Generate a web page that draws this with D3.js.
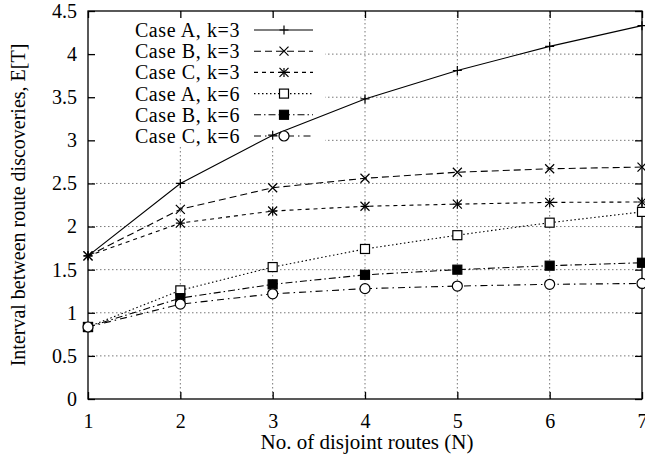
<!DOCTYPE html>
<html>
<head>
<meta charset="utf-8">
<script src="https://cdn.jsdelivr.net/npm/d3@7"></script>
<style>
  body { margin: 0; background: #fff; }
  svg text { font-family: "Liberation Serif", "Times New Roman", serif; fill: #000; }
</style>
</head>
<body>
<div id="chart"></div>
<script>
var w = 645;
var h = 456;
var margin = { top: 11, right: 3, bottom: 57, left: 88 };

// data
var routes = [1, 2, 3, 4, 5, 6, 7];
var caseAk3 = [1.66, 2.50, 3.06, 3.48, 3.81, 4.09, 4.33];
var caseBk3 = [1.66, 2.20, 2.45, 2.56, 2.63, 2.67, 2.69];
var caseCk3 = [1.66, 2.04, 2.18, 2.235, 2.26, 2.28, 2.285];
var caseAk6 = [0.835, 1.26, 1.53, 1.74, 1.90, 2.045, 2.17];
var caseBk6 = [0.835, 1.17, 1.33, 1.44, 1.50, 1.546, 1.58];
var caseCk6 = [0.835, 1.10, 1.22, 1.28, 1.31, 1.33, 1.34];
var seriesNames = ["Case A, k=3", "Case B, k=3", "Case C, k=3", "Case A, k=6", "Case B, k=6", "Case C, k=6"];
var yTicks = [0, 0.5, 1, 1.5, 2, 2.5, 3, 3.5, 4, 4.5];
var xTicks = [1, 2, 3, 4, 5, 6, 7];

var series = [caseAk3, caseBk3, caseCk3, caseAk6, caseBk6, caseCk6];
var dashes = ["none", "7,4", "4,4", "1.5,2.5", "7,3,1.5,3", "7,4,1.5,4"];
var markers = ["plus", "cross", "star", "square", "filled", "circle"];

var iw = w - margin.left - margin.right;
var ih = h - margin.top - margin.bottom;

var svg = d3.select("#chart")
    .append("svg")
    .attr("width", w)
    .attr("height", h);

var g = svg.append("g")
    .attr("transform", "translate(" + margin.left + "," + margin.top + ")");

var x = d3.scaleLinear().domain([1, 7]).range([0, iw]);
var y = d3.scaleLinear().domain([0, 4.5]).range([ih, 0]);

// grid
var grid = g.append("g").attr("class", "grid");
grid.selectAll(".hg")
    .data(yTicks.slice(1, -1))
    .enter().append("line")
    .attr("x1", 0).attr("x2", iw)
    .attr("y1", function(d) { return y(d); })
    .attr("y2", function(d) { return y(d); });
grid.selectAll(".vg")
    .data(xTicks.slice(1, -1))
    .enter().append("line")
    .attr("y1", 0).attr("y2", ih)
    .attr("x1", function(d) { return x(d); })
    .attr("x2", function(d) { return x(d); });
grid.selectAll("line")
    .attr("stroke", "#777")
    .attr("stroke-width", 1)
    .attr("stroke-dasharray", "1.5,2.5");

// key area hides the grid
g.append("rect")
    .attr("x", 1).attr("y", 1)
    .attr("width", 236).attr("height", 134)
    .attr("fill", "#fff");

// axes, ticks pointing inwards
var fmt = function(d) { return d; };
var yAxis = g.append("g").call(d3.axisLeft(y).tickValues(yTicks).tickFormat(fmt).tickSizeInner(-7).tickSizeOuter(0).tickPadding(11));
var xAxis = g.append("g").attr("transform", "translate(0," + ih + ")")
    .call(d3.axisBottom(x).tickValues(xTicks).tickFormat(fmt).tickSizeInner(-7).tickSizeOuter(0).tickPadding(15));
g.append("g").attr("transform", "translate(" + iw + ",0)")
    .call(d3.axisRight(y).tickValues(yTicks).tickFormat("").tickSizeInner(-7).tickSizeOuter(0));
g.append("g")
    .call(d3.axisTop(x).tickValues(xTicks).tickFormat("").tickSizeInner(-7).tickSizeOuter(0));

g.selectAll(".domain").remove();
g.selectAll(".tick line").attr("stroke", "#000").attr("stroke-width", 1.3);
g.selectAll(".tick text").style("font-size", "20px").attr("fill", "#000");

g.append("rect")
    .attr("width", iw).attr("height", ih)
    .attr("fill", "none")
    .attr("stroke", "#000")
    .attr("stroke-width", 1.3);

var drawMarker = function(sel, type, cx, cy) {
    var s = 4.5;
    var p = sel.append("g").attr("transform", "translate(" + cx + "," + cy + ")");
    if (type == "plus" || type == "star") {
        p.append("path").attr("d", "M" + -s + ",0H" + s + "M0," + -s + "V" + s);
    }
    if (type == "cross" || type == "star") {
        p.append("path").attr("d", "M" + -s + "," + -s + "L" + s + "," + s + "M" + -s + "," + s + "L" + s + "," + -s);
    }
    if (type == "square") {
        p.append("rect").attr("x", -s).attr("y", -s).attr("width", 2 * s).attr("height", 2 * s).attr("fill", "#fff");
    }
    if (type == "filled") {
        p.append("rect").attr("x", -s).attr("y", -s).attr("width", 2 * s).attr("height", 2 * s).attr("fill", "#000");
    }
    if (type == "circle") {
        p.append("circle").attr("r", s + 0.5).attr("fill", "#fff");
    }
    p.selectAll("*").attr("stroke", "#000").attr("stroke-width", 1.2);
    if (type != "square" && type != "filled" && type != "circle") p.selectAll("*").attr("fill", "none");
};

var line = d3.line()
    .x(function(d, i) { return x(routes[i]); })
    .y(function(d) { return y(d); });

series.forEach(function(vals, k) {
    var sg = g.append("g");
    sg.append("path")
        .attr("d", line(vals))
        .attr("fill", "none")
        .attr("stroke", "#000")
        .attr("stroke-width", 1.1)
        .attr("stroke-dasharray", dashes[k]);
    vals.forEach(function(v, i) {
        drawMarker(sg, markers[k], x(routes[i]), y(v));
    });
});

// key
var key = g.append("g");
seriesNames.forEach(function(name, k) {
    var ky = 19 + k * 21.2;
    key.append("text")
        .attr("x", 152).attr("y", ky)
        .attr("dy", "0.35em")
        .attr("text-anchor", "end")
        .style("font-size", "20px")
        .style("letter-spacing", "0.6px")
        .text(name);
    key.append("line")
        .attr("x1", 166).attr("x2", 225)
        .attr("y1", ky).attr("y2", ky)
        .attr("stroke", "#000")
        .attr("stroke-width", 1.1)
        .attr("stroke-dasharray", dashes[k]);
    drawMarker(key, markers[k], 196, ky);
});

// axis titles
svg.append("text")
    .attr("x", margin.left + iw / 2 + 2)
    .attr("y", 449)
    .attr("text-anchor", "middle")
    .style("font-size", "21px")
    .text("No. of disjoint routes (N)");

svg.append("text")
    .attr("transform", "translate(25," + (margin.top + ih / 2) + ") rotate(-90)")
    .attr("text-anchor", "middle")
    .style("font-size", "20px")
    .text("Interval between route discoveries, E[T]");
</script>
</body>
</html>
